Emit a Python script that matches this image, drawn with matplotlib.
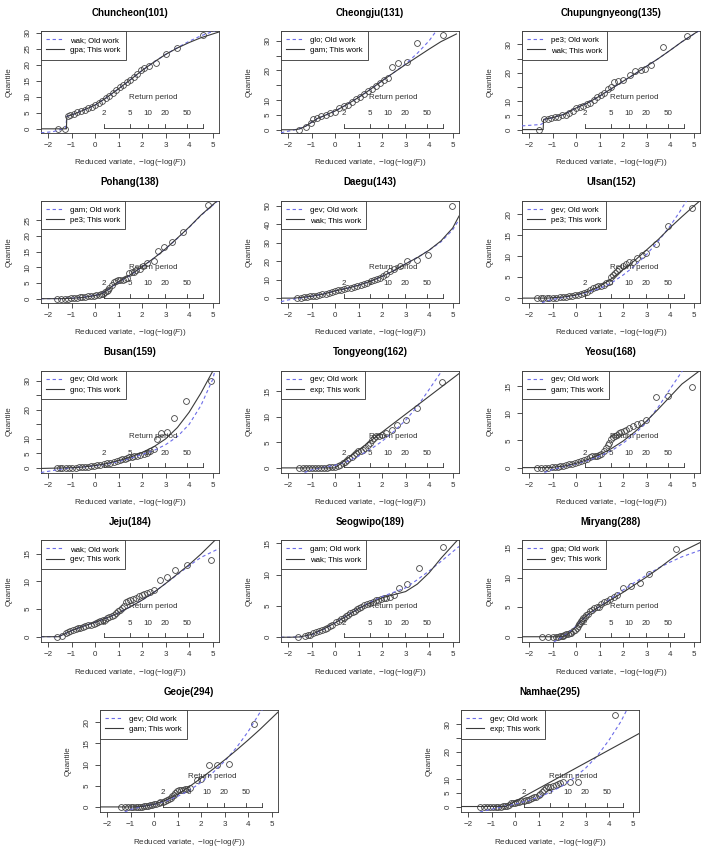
import numpy as np
import matplotlib
matplotlib.use("Agg")
import matplotlib.pyplot as plt
from matplotlib.lines import Line2D
from matplotlib.transforms import blended_transform_factory

plt.rcParams['font.family'] = ['Liberation Sans', 'DejaVu Sans']
plt.rcParams['mathtext.fontset'] = 'custom'
plt.rcParams['mathtext.rm'] = 'Liberation Sans'
plt.rcParams['mathtext.it'] = 'Liberation Sans:italic'

# -----------------------------
# data (reduced variate x, quantile q)
# -----------------------------
names = ["Chuncheon(101)", "Cheongju(131)", "Chupungnyeong(135)", "Pohang(138)",
         "Daegu(143)", "Ulsan(152)", "Busan(159)", "Tongyeong(162)", "Yeosu(168)",
         "Jeju(184)", "Seogwipo(189)", "Miryang(288)", "Geoje(294)", "Namhae(295)"]
old_dist = ["wak", "glo", "pe3", "gam", "gev", "gev", "gev", "gev", "gev", "wak", "gam", "gpa", "gev", "gev"]
new_dist = ["gpa", "gam", "wak", "pe3", "wak", "pe3", "gno", "exp", "gam", "gev", "wak", "gev", "gam", "exp"]

# Chuncheon
chuncheon_x = [-1.57, -1.3, -1.15, -1.05, -0.9, -0.75, -0.6, -0.45, -0.3, -0.15, 0.0, 0.15, 0.3, 0.45, 0.6, 0.75,
               0.9, 1.05, 1.2, 1.35, 1.5, 1.64, 1.8, 1.95, 2.1, 2.3, 2.6, 3.0, 3.5, 4.6]
chuncheon_q = [0, 0, 4.0, 4.2, 4.6, 5.1, 5.5, 6.0, 6.4, 6.9, 7.4, 8.1, 8.8, 9.6, 10.3, 11.1,
               12.0, 12.9, 13.8, 14.6, 15.3, 16.1, 17.0, 18.2, 19.0, 19.6, 20.6, 23.2, 25.3, 29.3]
chuncheon_old_x = [-2.3, -1.8, -1.45, -1.25, -1.2, -1.0, -0.5, 0, 0.5, 1, 1.5, 2, 2.5, 3, 3.5, 4, 4.5, 5.1]
chuncheon_old_q = [-1.25, -0.9, -0.2, 0.2, 3.9, 4.3, 5.8, 7.4, 9.8, 12.5, 15.3, 18.2, 20.8, 23.2, 25.3, 27.3, 29.0, 30.6]
chuncheon_new_x = [-2.3, -1.22, -1.2, -1.0, -0.5, 0, 0.5, 1, 1.5, 2, 2.5, 3, 3.5, 4, 4.5, 5.27]
chuncheon_new_q = [0, 0, 3.9, 4.3, 5.8, 7.4, 9.8, 12.5, 15.3, 18.2, 20.8, 23.2, 25.2, 26.9, 28.4, 30.2]

# Cheongju
cheongju_x = [-1.54, -1.25, -1.04, -0.95, -0.76, -0.58, -0.38, -0.2, 0.01, 0.18, 0.36, 0.55, 0.71, 0.9, 1.07,
              1.25, 1.42, 1.59, 1.73, 1.91, 2.09, 2.26, 2.43, 2.68, 3.04, 3.5, 4.58]
cheongju_q = [0, 0.8, 2.2, 3.6, 4.1, 4.7, 5.0, 5.6, 6.1, 7.2, 8.0, 8.4, 9.2, 10.2, 11.1,
              12.0, 13.1, 13.9, 14.7, 15.6, 16.7, 17.6, 21.3, 22.4, 23.0, 29.1, 32.0]
cheongju_old_x = [-2.3, -2.0, -1.5, -1.25, -1.0, -0.75, -0.5, -0.25, 0, 0.5, 1, 1.5, 2, 2.5, 3, 3.5, 4, 4.3]
cheongju_old_q = [-1.0, -0.5, 0.4, 1.2, 2.5, 3.8, 4.6, 5.5, 6.3, 8.5, 10.9, 13.6, 16.5, 19.3, 22.2, 25.8, 30.0, 33.3]
cheongju_new_x = [-2.3, -1.7, -1.5, -1.25, -1.0, -0.75, -0.5, -0.25, 0, 0.5, 1, 1.5, 2, 2.5, 3, 3.5, 4, 4.5, 5.16]
cheongju_new_q = [0, 0, 0.3, 1.2, 2.5, 3.8, 4.6, 5.5, 6.3, 8.5, 10.9, 13.6, 16.5, 19.3, 22.0, 24.6, 27.2, 29.7, 32.3]

# Chupungnyeong
chupung_x = [-1.58, -1.37, -1.2, -1.05, -0.9, -0.75, -0.6, -0.45, -0.3, -0.15, 0.0, 0.15, 0.3, 0.45, 0.6, 0.75,
             0.9, 1.05, 1.2, 1.35, 1.5, 1.62, 1.8, 2.0, 2.3, 2.5, 2.75, 2.95, 3.2, 3.7, 4.7]
chupung_q = [0, 3.6, 3.8, 4.1, 4.3, 4.6, 5.0, 5.3, 5.7, 6.4, 7.6, 8.0, 8.4, 8.9, 9.5, 10.3,
             11.3, 12.1, 12.9, 14.2, 15.0, 16.8, 17.0, 17.3, 19.1, 20.5, 20.9, 21.5, 22.6, 29.1, 32.9]
chupung_old_x = [-2.3, -1.5, -1.4, -1.35, -1.0, -0.5, 0, 0.5, 1, 1.5, 2, 2.5, 3, 3.5, 4, 4.5, 5.27]
chupung_old_q = [1.3, 1.8, 2.3, 3.6, 4.2, 5.4, 7.6, 9.4, 11.8, 14.4, 17.0, 19.6, 22.3, 25.0, 27.9, 30.9, 35.0]
chupung_new_x = [-2.3, -1.4, -1.38, -1.0, -0.5, 0, 0.5, 1, 1.5, 2, 2.5, 3, 3.5, 4, 4.5, 5.2]
chupung_new_q = [0, 0, 3.6, 4.2, 5.4, 7.6, 9.4, 11.8, 14.4, 17.0, 19.6, 22.3, 25.0, 27.9, 30.9, 34.7]

# Pohang
pohang_x = [-1.62, -1.45, -1.3, -1.15, -1.01, -0.9, -0.79, -0.66, -0.54, -0.41, -0.29, -0.16, -0.03, 0.06, 0.16,
            0.25, 0.35, 0.42, 0.5, 0.55, 0.6, 0.7, 0.79, 0.88, 0.98, 1.07, 1.17, 1.27, 1.36, 1.45, 1.55, 1.64,
            1.76, 1.89, 2.05, 2.21, 2.5, 2.69, 2.93, 3.26, 3.73, 4.81]
pohang_q = [0, 0, 0, 0.05, 0.1, 0.2, 0.3, 0.4, 0.5, 0.65, 0.8, 0.9, 1.0, 1.1, 1.2,
            1.4, 1.6, 2.0, 2.4, 2.9, 3.4, 4.4, 5.3, 5.5, 5.8, 5.9, 6.1, 6.3, 6.5, 8.2, 8.4, 8.6,
            9.0, 9.4, 10.4, 11.5, 12.0, 15.1, 16.5, 17.9, 21.2, 29.7]
pohang_old_x = [-2.3, -1.5, -1, -0.5, 0, 0.3, 0.5, 0.8, 1, 1.5, 2, 2.5, 3, 3.5, 4, 4.5, 5.2]
pohang_old_q = [0, 0.02, 0.12, 0.45, 1.05, 1.65, 2.6, 4.3, 5.3, 7.5, 10.1, 12.9, 15.9, 19.2, 22.7, 26.5, 31.0]
pohang_new_x = [-2.3, -1.5, -1, -0.5, 0, 0.3, 0.5, 0.8, 1, 1.5, 2, 2.5, 3, 3.5, 4, 4.5, 5.2]
pohang_new_q = [0, 0, 0.1, 0.4, 1.0, 1.6, 2.6, 4.4, 5.4, 7.6, 10.2, 12.9, 15.9, 19.3, 22.8, 26.6, 31.2]

# Daegu
daegu_x = [-1.64, -1.45, -1.34, -1.2, -1.07, -0.95, -0.82, -0.68, -0.54, -0.4, -0.25, -0.12, 0.0, 0.14, 0.27,
           0.4, 0.52, 0.66, 0.8, 0.95, 1.09, 1.23, 1.37, 1.52, 1.66, 1.78, 1.91, 2.05, 2.18, 2.35, 2.52, 2.75,
           3.06, 3.48, 3.95, 4.96]
daegu_q = [0.2, 0.3, 0.5, 0.7, 0.9, 1.1, 1.4, 1.8, 2.1, 2.5, 3.0, 3.5, 3.9, 4.3, 4.6,
           5.0, 5.4, 5.7, 6.0, 6.5, 7.2, 7.8, 8.4, 9.1, 9.8, 10.4, 11.1, 12.2, 13.3, 14.5, 16.0, 17.5,
           20.4, 20.9, 23.3, 50.0]
daegu_old_x = [-2.3, -2.0, -1.5, -1, -0.5, 0, 0.5, 1, 1.5, 2, 2.5, 3, 3.5, 4, 4.5, 5, 5.27]
daegu_old_q = [-1.9, -1.0, 0.0, 1.0, 2.3, 3.9, 5.3, 7.0, 9.1, 11.8, 14.9, 18.6, 22.0, 26.0, 30.5, 37.0, 42.5]
daegu_new_x = [-2.3, -1.8, -1.5, -1, -0.5, 0, 0.5, 1, 1.5, 2, 2.5, 3, 3.5, 4, 4.5, 5, 5.27]
daegu_new_q = [0, 0, 0.3, 1.0, 2.2, 3.9, 5.3, 7.0, 9.1, 11.8, 14.9, 18.6, 22.0, 26.0, 31.0, 38.0, 44.5]

# Ulsan
ulsan_x = [-1.65, -1.5, -1.39, -1.25, -1.14, -1.0, -0.85, -0.7, -0.56, -0.43, -0.31, -0.17, -0.04, 0.08, 0.21,
           0.33, 0.46, 0.6, 0.73, 0.83, 0.92, 1.05, 1.17, 1.28, 1.38, 1.49, 1.57, 1.65, 1.75, 1.84, 1.98, 2.13,
           2.27, 2.41, 2.6, 2.8, 2.99, 3.41, 3.89, 4.91]
ulsan_q = [0, 0, 0, 0, 0.1, 0.1, 0.15, 0.2, 0.25, 0.35, 0.45, 0.55, 0.7, 0.85, 1.0,
           1.2, 1.5, 1.9, 2.4, 2.6, 2.8, 3.0, 3.2, 3.5, 3.9, 5.0, 5.5, 6.0, 6.5, 7.0, 7.6, 8.2,
           8.5, 8.7, 9.5, 10.3, 10.7, 12.8, 17.3, 21.5]
ulsan_old_x = [-1.45, -1.2, -1, -0.5, 0, 0.5, 1, 1.5, 2, 2.5, 3, 3.5, 4, 4.4, 4.7]
ulsan_old_q = [-1.1, -0.6, -0.3, 0.2, 0.7, 1.4, 2.3, 3.6, 5.5, 7.7, 10.4, 13.6, 17.2, 20.5, 23.2]
ulsan_new_x = [-2.3, -1.2, -1, -0.5, 0, 0.5, 1, 1.5, 2, 2.5, 3, 3.5, 4, 4.5, 5, 5.27]
ulsan_new_q = [0, 0, 0.1, 0.3, 0.75, 1.6, 2.8, 4.6, 6.8, 9.0, 11.5, 14.0, 16.8, 19.4, 21.9, 23.2]

# Busan
busan_x = [-1.62, -1.5, -1.39, -1.25, -1.11, -0.97, -0.82, -0.68, -0.54, -0.41, -0.29, -0.17, -0.06, 0.08, 0.22,
           0.36, 0.5, 0.64, 0.79, 0.92, 1.04, 1.15, 1.26, 1.35, 1.45, 1.55, 1.64, 1.78, 1.93, 2.07, 2.21, 2.35,
           2.5, 2.63, 2.82, 3.07, 3.35, 3.86, 4.91]
busan_q = [0, 0, 0, 0, 0, 0, 0.1, 0.15, 0.2, 0.3, 0.45, 0.55, 0.7, 0.9, 1.1,
           1.35, 1.6, 1.8, 2.0, 2.3, 2.6, 2.9, 3.2, 3.5, 3.7, 3.9, 4.1, 4.2, 4.3, 4.7, 5.1, 5.8,
           6.6, 10.0, 12.2, 12.5, 17.3, 23.0, 30.0]
busan_old_x = [-2.3, -2, -1.5, -1, -0.5, 0, 0.5, 1, 1.5, 2, 2.5, 3, 3.5, 4, 4.5, 5, 5.1]
busan_old_q = [-1.6, -1.2, -0.5, 0, 0.3, 0.7, 1.3, 2.2, 3.3, 4.6, 6.0, 8.0, 10.8, 15.0, 21.5, 30.5, 33.6]
busan_new_x = [-2.3, -1.5, -1, -0.5, 0, 0.5, 1, 1.5, 2, 2.5, 3, 3.5, 4, 4.5, 5.02]
busan_new_q = [-0.2, -0.05, 0.05, 0.3, 0.8, 1.5, 2.5, 3.7, 5.3, 7.3, 10.0, 13.9, 19.2, 25.8, 33.6]

# Tongyeong
tongyeong_x = [-1.52, -1.38, -1.24, -1.1, -0.97, -0.85, -0.72, -0.6, -0.49, -0.36, -0.24, -0.12, 0.0, 0.12, 0.23,
               0.33, 0.42, 0.52, 0.61, 0.7, 0.8, 0.9, 0.99, 1.09, 1.19, 1.28, 1.38, 1.47, 1.57, 1.66, 1.76,
               1.87, 1.98, 2.18, 2.43, 2.62, 3.0, 3.48, 4.53]
tongyeong_q = [0, 0, 0, 0, 0, 0, 0, 0, 0.05, 0.05, 0.1, 0.15, 0.25, 0.4, 0.65,
               0.9, 1.1, 1.5, 1.9, 2.2, 2.5, 2.9, 3.2, 3.3, 3.5, 3.9, 4.4, 4.9, 5.4, 5.8, 6.2,
               6.3, 6.5, 6.8, 7.3, 8.4, 9.4, 11.7, 16.8]
tongyeong_old_x = [-1.3, -1, -0.5, 0, 0.5, 1, 1.5, 2, 2.5, 3, 3.5, 4, 4.55]
tongyeong_old_q = [-0.9, -0.4, 0.1, 0.5, 1.2, 2.3, 3.6, 5.2, 7.1, 9.3, 12.0, 15.3, 19.0]
tongyeong_new_x = [-2.3, 0.0, 5.27]
tongyeong_new_q = [0, 0, 18.4]

# Yeosu
yeosu_x = [-1.65, -1.48, -1.33, -1.18, -1.04, -0.91, -0.79, -0.67, -0.56, -0.43, -0.31, -0.17, -0.04, 0.08, 0.21,
           0.33, 0.46, 0.58, 0.69, 0.79, 0.88, 0.98, 1.07, 1.17, 1.26, 1.34, 1.42, 1.49, 1.55, 1.65, 1.74,
           1.84, 1.93, 2.03, 2.13, 2.27, 2.41, 2.58, 2.76, 2.99, 3.41, 3.91, 4.91]
yeosu_q = [0, 0, 0, 0, 0.05, 0.1, 0.2, 0.3, 0.35, 0.45, 0.6, 0.7, 0.85, 1.0, 1.2,
           1.4, 1.65, 1.9, 2.1, 2.15, 2.2, 2.35, 2.5, 3.0, 3.6, 4.2, 4.6, 5.2, 5.7, 5.9, 6.1,
           6.3, 6.5, 6.8, 7.0, 7.3, 7.6, 8.0, 8.3, 8.8, 13.1, 13.2, 14.9]
yeosu_old_x = [-1.35, -1, -0.5, 0, 0.5, 1, 1.5, 2, 2.5, 3, 3.5, 4, 4.53]
yeosu_old_q = [-0.9, -0.35, 0.2, 0.7, 1.3, 2.1, 3.1, 4.5, 6.2, 8.4, 11.2, 14.5, 17.9]
yeosu_new_x = [-2.3, -1.2, -1, -0.5, 0, 0.5, 1, 1.5, 2, 2.5, 3, 3.5, 4, 4.5, 5.27]
yeosu_new_q = [0, 0, 0.05, 0.3, 0.8, 1.5, 2.4, 3.5, 4.9, 6.6, 8.6, 10.8, 13.1, 15.4, 17.9]

# Jeju
jeju_x = [-1.62, -1.39, -1.24, -1.15, -1.05, -0.94, -0.82, -0.72, -0.63, -0.52, -0.41, -0.29, -0.16, -0.06, 0.03,
          0.13, 0.22, 0.32, 0.41, 0.5, 0.6, 0.7, 0.79, 0.88, 0.98, 1.06, 1.13, 1.22, 1.3, 1.4, 1.49, 1.62,
          1.74, 1.86, 1.98, 2.1, 2.21, 2.35, 2.5, 2.78, 3.07, 3.41, 3.92, 4.91]
jeju_q = [0, 0.1, 0.75, 0.9, 1.05, 1.2, 1.35, 1.5, 1.65, 1.8, 1.9, 2.05, 2.2, 2.35, 2.5,
          2.65, 2.8, 2.95, 3.1, 3.3, 3.5, 3.65, 3.85, 4.2, 4.55, 4.85, 5.15, 5.6, 6.2, 6.4, 6.6, 6.8,
          7.0, 7.3, 7.5, 7.7, 7.9, 8.1, 8.4, 10.2, 10.7, 12.0, 12.9, 13.9]
jeju_old_x = [-2.3, -1.55, -1.3, -1, -0.5, 0, 0.5, 1, 1.5, 2, 2.5, 3, 3.5, 4, 4.5, 5.27]
jeju_old_q = [0, 0, 0.5, 1.1, 1.9, 2.6, 3.4, 4.3, 5.4, 6.6, 8.0, 9.6, 11.2, 12.8, 14.3, 15.9]
jeju_new_x = [-2.3, -1.55, -1.3, -1, -0.5, 0, 0.5, 1, 1.5, 2, 2.5, 3, 3.5, 4, 4.5, 5.1]
jeju_new_q = [0, 0, 0.5, 1.1, 1.9, 2.6, 3.4, 4.3, 5.4, 6.6, 8.0, 9.6, 11.3, 13.0, 14.9, 17.4]

# Seogwipo
seogwipo_x = [-1.58, -1.29, -1.17, -1.06, -0.94, -0.82, -0.7, -0.57, -0.45, -0.34, -0.22, -0.11, 0.04, 0.15, 0.27,
              0.37, 0.46, 0.56, 0.65, 0.75, 0.84, 0.94, 1.03, 1.12, 1.22, 1.35, 1.47, 1.6, 1.72, 1.84, 1.95,
              2.07, 2.18, 2.35, 2.52, 2.71, 3.06, 3.57, 4.58]
seogwipo_q = [0, 0.2, 0.3, 0.4, 0.6, 0.8, 1.0, 1.15, 1.35, 1.55, 1.75, 1.9, 2.45, 2.65, 2.85,
              3.1, 3.35, 3.6, 3.9, 4.05, 4.25, 4.45, 4.65, 4.9, 5.1, 5.3, 5.45, 5.7, 5.95, 6.0, 6.1,
              6.2, 6.3, 6.5, 6.7, 7.9, 8.5, 11.1, 14.5]
seogwipo_old_x = [-2.3, -1.9, -1.5, -1, -0.5, 0, 0.5, 1, 1.5, 2, 2.5, 3, 3.5, 4, 4.5, 5.27]
seogwipo_old_q = [0, 0, 0.05, 0.4, 1.25, 2.3, 3.45, 4.6, 5.6, 6.5, 7.2, 7.9, 9.2, 10.6, 12.1, 14.5]
seogwipo_new_x = [-2.3, -1.9, -1.5, -1, -0.5, 0, 0.5, 1, 1.5, 2, 2.5, 3, 3.5, 4, 4.5, 5.2]
seogwipo_new_q = [0, 0, 0.05, 0.45, 1.3, 2.3, 3.4, 4.6, 5.5, 6.3, 6.8, 7.3, 8.5, 10.3, 12.6, 15.5]

# Miryang
miryang_x = [-1.46, -1.19, -1.0, -0.85, -0.77, -0.69, -0.62, -0.56, -0.5, -0.43, -0.35, -0.27, -0.2, -0.12, -0.05,
             0.02, 0.07, 0.11, 0.16, 0.21, 0.26, 0.3, 0.37, 0.44, 0.51, 0.59, 0.68, 0.78, 0.87, 0.97, 1.07,
             1.17, 1.31, 1.45, 1.6, 1.74, 1.99, 2.32, 2.7, 3.1, 4.24]
miryang_q = [0, 0, 0, 0, 0, 0.05, 0.1, 0.15, 0.25, 0.4, 0.45, 0.55, 0.7, 0.9, 1.1,
             1.4, 1.8, 2.1, 2.4, 2.6, 2.9, 3.2, 3.4, 3.6, 3.9, 4.3, 4.6, 4.8, 5.0, 5.1, 5.5,
             5.9, 6.1, 6.3, 6.7, 7.1, 8.2, 8.6, 9.1, 10.6, 14.9]
miryang_old_x = [-0.95, -0.7, -0.5, -0.3, 0, 0.3, 0.5, 1, 1.5, 2, 2.5, 3, 3.5, 4, 4.5, 5.27]
miryang_old_q = [-0.9, -0.3, 0.2, 0.7, 1.8, 3.0, 3.7, 5.1, 6.5, 7.9, 9.2, 10.4, 11.6, 12.6, 13.5, 14.6]
miryang_new_x = [-2.3, -0.6, -0.4, -0.2, 0, 0.2, 0.4, 0.6, 1, 1.5, 2, 2.5, 3, 3.5, 4, 4.5, 5.27]
miryang_new_q = [0, 0, 0.3, 0.9, 1.7, 2.6, 3.4, 4.1, 5.1, 6.3, 7.5, 8.8, 10.1, 11.5, 13.0, 14.4, 15.9]

# Geoje
geoje_x = [-1.4, -1.25, -1.1, -0.99, -0.88, -0.77, -0.67, -0.58, -0.5, -0.41, -0.33, -0.24, -0.16, -0.07, 0.01,
           0.1, 0.19, 0.27, 0.36, 0.45, 0.53, 0.62, 0.7, 0.77, 0.84, 0.9, 0.96, 1.05, 1.13, 1.22, 1.3,
           1.42, 1.53, 1.82, 2.0, 2.34, 2.68, 3.2, 4.23]
geoje_q = [0, 0, 0, 0, 0, 0, 0, 0.02, 0.05, 0.1, 0.15, 0.25, 0.4, 0.5, 0.6,
           0.75, 0.9, 1.05, 1.2, 1.4, 1.65, 1.9, 2.1, 2.5, 2.9, 3.3, 3.8, 3.9, 4.0, 4.1, 4.2,
           4.35, 4.5, 6.4, 6.6, 10.0, 10.0, 10.2, 19.7]
geoje_old_x = [-1.25, -1, -0.5, 0, 0.5, 1, 1.5, 2, 2.5, 3, 3.5, 4, 4.5, 4.6]
geoje_old_q = [-1.2, -0.6, 0.1, 0.6, 1.4, 2.5, 3.9, 5.8, 8.1, 10.8, 14.0, 17.8, 22.3, 22.9]
geoje_new_x = [-2.3, -0.9, -0.5, 0, 0.5, 1, 1.5, 2, 2.5, 3, 3.5, 4, 4.5, 5.27]
geoje_new_q = [0, 0, 0.1, 0.6, 1.6, 3.0, 4.8, 6.8, 8.9, 11.1, 13.4, 15.8, 18.3, 22.4]

# Namhae
namhae_x = [-1.5, -1.33, -1.19, -1.06, -0.93, -0.82, -0.71, -0.6, -0.5, -0.41, -0.33, -0.26, -0.19, -0.1, -0.02,
            0.07, 0.15, 0.25, 0.36, 0.45, 0.53, 0.63, 0.74, 0.82, 0.91, 1.0, 1.08, 1.15, 1.22, 1.3, 1.39,
            1.5, 1.6, 1.72, 1.82, 1.93, 2.04, 2.34, 2.68, 4.23]
namhae_q = [0, 0, 0, 0, 0, 0, 0, 0, 0.1, 0.2, 0.35, 0.7, 1.15, 1.3, 1.4,
            1.55, 1.75, 1.9, 2.1, 2.3, 2.55, 2.8, 3.0, 3.3, 3.6, 4.1, 4.65, 5.4, 6.2, 6.6, 7.0,
            7.2, 7.4, 7.8, 8.1, 8.5, 9.1, 9.1, 9.1, 33.5]
namhae_old_x = [-1.5, -1, -0.5, 0, 0.5, 1, 1.5, 2, 2.5, 3, 3.5, 4, 4.5, 4.75]
namhae_old_q = [-2.0, -1.0, 0.0, 0.9, 2.0, 3.4, 5.2, 7.5, 10.4, 14.0, 18.5, 24.3, 31.0, 35.2]
namhae_new_x = [-2.3, -0.4, 5.27]
namhae_new_q = [0, 0, 26.6]

# y axis ranges, tick values and which of them carry a label
ylims = [(-1.3, 30.5), (-1.1, 33.3), (-1.2, 34.7), (-1.3, 31.2), (-2.5, 52.8), (-1.1, 23.2), (-1.6, 33.6),
         (-0.9, 19.0), (-0.9, 17.9), (-1.0, 17.4), (-0.8, 15.5), (-0.93, 16.3), (-1.2, 22.9), (-2.0, 35.2)]
ytick_vals = [[0, 5, 10, 15, 20, 25, 30], [0, 5, 10, 15, 20, 25, 30], [0, 5, 10, 15, 20, 25, 30],
              [0, 5, 10, 15, 20, 25], [0, 10, 20, 30, 40, 50], [0, 5, 10, 15, 20], [0, 5, 10, 15, 20, 25, 30],
              [0, 5, 10, 15], [0, 5, 10, 15], [0, 5, 10, 15], [0, 5, 10, 15], [0, 5, 10, 15],
              [0, 5, 10, 15, 20], [0, 5, 10, 15, 20, 25, 30]]
ytick_shown = [[0, 5, 10, 15, 20, 25, 30], [0, 5, 10, 20, 30], [0, 5, 10, 20, 30],
               [0, 5, 10, 15, 20, 25], [0, 10, 20, 30, 40, 50], [0, 5, 10, 15, 20], [0, 5, 10, 20, 30],
               [0, 5, 10, 15], [0, 5, 10, 15], [0, 5, 10, 15], [0, 5, 10, 15], [0, 5, 10, 15],
               [0, 5, 10, 15, 20], [0, 5, 10, 20, 30]]

rp_periods = [2, 5, 10, 20, 50, 100]
rp_labels = ["2", "5", "10", "20", "50", ""]

stations = [
    (chuncheon_x, chuncheon_q, chuncheon_old_x, chuncheon_old_q, chuncheon_new_x, chuncheon_new_q),
    (cheongju_x, cheongju_q, cheongju_old_x, cheongju_old_q, cheongju_new_x, cheongju_new_q),
    (chupung_x, chupung_q, chupung_old_x, chupung_old_q, chupung_new_x, chupung_new_q),
    (pohang_x, pohang_q, pohang_old_x, pohang_old_q, pohang_new_x, pohang_new_q),
    (daegu_x, daegu_q, daegu_old_x, daegu_old_q, daegu_new_x, daegu_new_q),
    (ulsan_x, ulsan_q, ulsan_old_x, ulsan_old_q, ulsan_new_x, ulsan_new_q),
    (busan_x, busan_q, busan_old_x, busan_old_q, busan_new_x, busan_new_q),
    (tongyeong_x, tongyeong_q, tongyeong_old_x, tongyeong_old_q, tongyeong_new_x, tongyeong_new_q),
    (yeosu_x, yeosu_q, yeosu_old_x, yeosu_old_q, yeosu_new_x, yeosu_new_q),
    (jeju_x, jeju_q, jeju_old_x, jeju_old_q, jeju_new_x, jeju_new_q),
    (seogwipo_x, seogwipo_q, seogwipo_old_x, seogwipo_old_q, seogwipo_new_x, seogwipo_new_q),
    (miryang_x, miryang_q, miryang_old_x, miryang_old_q, miryang_new_x, miryang_new_q),
    (geoje_x, geoje_q, geoje_old_x, geoje_old_q, geoje_new_x, geoje_new_q),
    (namhae_x, namhae_q, namhae_old_x, namhae_old_q, namhae_new_x, namhae_new_q),
]

# -----------------------------
# layout (pixels, 704 x 856 canvas)
# -----------------------------
W, H = 704, 856
AW, AH = 178, 102
row_tops = [31 + k * 169.75 for k in range(5)]
boxes = []
for r in range(4):
    for left in (41, 281, 522):
        boxes.append((left, row_tops[r]))
boxes += [(100, row_tops[4]), (461, row_tops[4])]

INK = "#333333"
OLD_C = "#6b6be8"
NEW_C = "#3a3a3a"
BASE = 5.8

fig = plt.figure(figsize=(W / 100, H / 100), dpi=100)

for i, (px, pq, ox, oq, nx, nq) in enumerate(stations):
    left, top = boxes[i]
    ax = fig.add_axes([left / W, 1 - (top + AH) / H, AW / W, AH / H])

    ax.plot(px, pq, "o", mfc="none", mec="#454545", ms=4.2, mew=0.6, zorder=2)
    ax.plot(ox, oq, color=OLD_C, lw=0.8, dashes=(3, 2.5), zorder=3)
    ax.plot(nx, nq, color=NEW_C, lw=0.8, zorder=3)

    ax.set_xlim(-2.3, 5.27)
    ax.set_ylim(*ylims[i])
    ax.set_xticks(range(-2, 6))
    ax.set_yticks(ytick_vals[i])
    ax.set_yticklabels([str(v) if v in ytick_shown[i] else "" for v in ytick_vals[i]],
                       rotation=90, va="center")
    ax.tick_params(direction="out", length=3.6, width=0.6, labelsize=BASE, pad=3, colors=INK)
    for sp in ax.spines.values():
        sp.set_linewidth(0.6)
        sp.set_color(INK)

    ax.set_title(names[i], fontsize=7, fontweight="bold", pad=11)
    ax.set_xlabel("Reduced variate,  \u2212log(\u2212log($F$))", fontsize=BASE, color=INK, va="center")
    ax.xaxis.set_label_coords(0.5, -30 / AH)
    ax.set_ylabel("Quantile", fontsize=BASE, color=INK, va="center")
    ax.yaxis.set_label_coords(-32 / AW, 0.5)

    # return period axis inside the panel
    tr = blended_transform_factory(ax.transData, ax.transAxes)
    rp_x = [-np.log(-np.log(1 - 1 / T)) for T in rp_periods]
    ax.plot([rp_x[0], rp_x[-1]], [0.05, 0.05], transform=tr, color=INK, lw=0.6, zorder=4)
    for xv, lab in zip(rp_x, rp_labels):
        ax.plot([xv, xv], [0.05, 0.09], transform=tr, color=INK, lw=0.6, zorder=4)
        if lab:
            ax.text(xv, 0.05 + 14 / AH, lab, transform=tr, ha="center", va="center",
                    fontsize=BASE, color=INK, zorder=4)
    ax.text(np.mean([rp_x[0], rp_x[-1]]), 0.05 + 30.5 / AH, "Return period", transform=tr,
            ha="center", va="center", fontsize=BASE, color=INK, zorder=4)

    handles = [Line2D([], [], color=OLD_C, lw=0.8, dashes=(3, 2.5)),
               Line2D([], [], color=NEW_C, lw=0.8)]
    leg = ax.legend(handles, [f"{old_dist[i]}; Old work", f"{new_dist[i]}; This work"],
                    loc="upper left", borderaxespad=0, fontsize=5.6, fancybox=False,
                    edgecolor=INK, framealpha=1, handlelength=2.2, handletextpad=0.8,
                    borderpad=0.7, labelspacing=0.35)
    leg.get_frame().set_linewidth(0.6)
    leg.set_zorder(5)

fig.savefig("out.png", dpi=100, facecolor="white")
